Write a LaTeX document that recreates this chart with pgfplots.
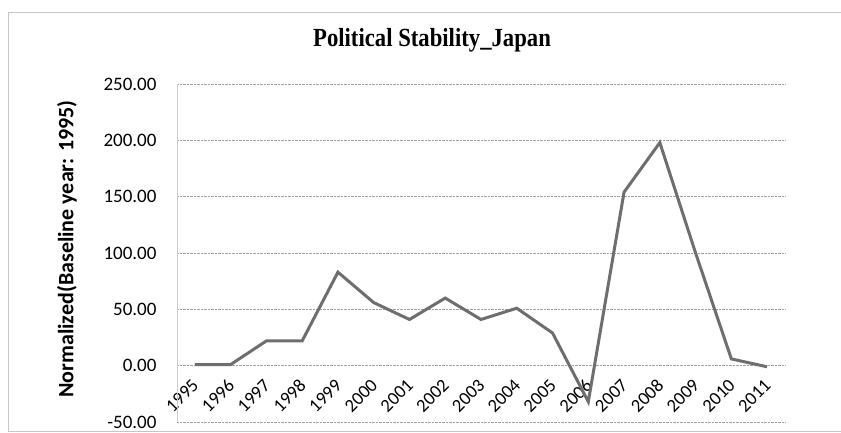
\documentclass[border=0pt]{standalone}
\usepackage{pgfplots}
\pgfplotsset{compat=1.18}
\usepackage{fontspec}
\setmainfont{Carlito}
\newfontfamily\titlefont{Liberation Serif}
\definecolor{linegray}{HTML}{6E6E6E}
\definecolor{gridgray}{HTML}{A0A0A0}
\begin{document}
\begin{tikzpicture}[x=1pt,y=1pt]
\path[use as bounding box] (0,0) rectangle (841,432);
\draw[gray!45, line width=0.8pt] (8,1) rectangle (845,420);
\node[font=\titlefont\bfseries\fontsize{22.7}{26}\selectfont] at (432,392) {\scalebox{1}[1.15]{Political Stability\_Japan}};
\node[rotate=90, font=\bfseries\fontsize{22}{26}\selectfont] at (67,183) {Normalized(Baseline year: 1995)};
\begin{axis}[
  at={(177pt,10pt)}, anchor=south west, scale only axis,
  width=608pt, height=338pt,
  xmin=-0.5, xmax=16.5, ymin=-50, ymax=250,
  axis line style={draw=none},
  tick style={draw=none},
  ytick={-50,0,50,100,150,200,250},
  yticklabels={-50.00,0.00,50.00,100.00,150.00,200.00,250.00},
  yticklabel style={font=\fontsize{19}{22}\selectfont, xshift=-17pt},
  xtick={0,...,16},
  xticklabels={1995,1996,1997,1998,1999,2000,2001,2002,2003,2004,2005,2006,2007,2008,2009,2010,2011},
  xticklabel style={font=\fontsize{18.5}{20}\selectfont, xshift=3pt, rotate=45, anchor=east},
  xticklabel shift=-42pt,
  ymajorgrids,
  grid style={densely dotted, gridgray, line width=0.6pt},
  clip=false,
]
\draw[gray!40, line width=0.8pt] (rel axis cs:0,0) -- (rel axis cs:0,1);
\addplot[linegray, line width=3pt, line join=miter, mark=none] coordinates {
(0,1) (1,1) (2,22) (3,22) (4,83) (5,56) (6,41) (7,60) (8,41) (9,51) (10,29) (11,-32) (12,154) (13,198) (14,100) (15,6) (16,-1)
};
\end{axis}
\end{tikzpicture}
\end{document}
